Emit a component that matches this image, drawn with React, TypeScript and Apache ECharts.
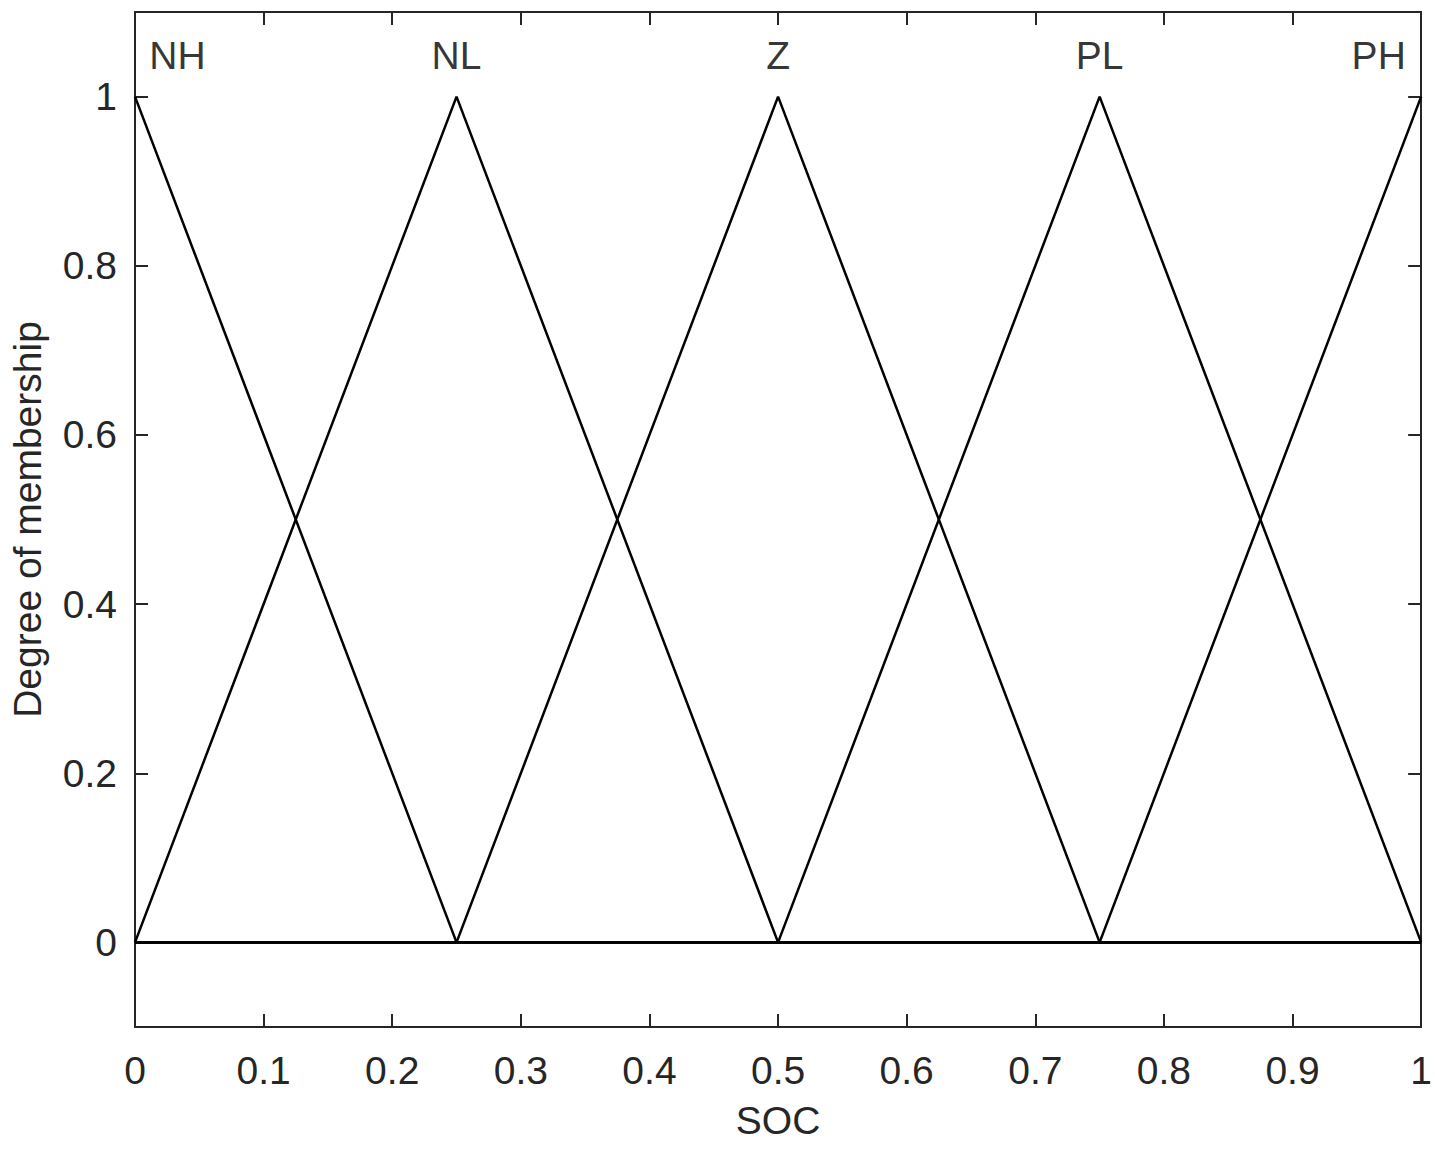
import React, { useEffect, useRef } from "react";
import * as echarts from "echarts";

// Membership functions (x, degree) over SOC range [0, 1]
const mfNames = ["NH", "NL", "Z", "PL", "PH"];
const mfNH = [[0, 1], [0.25, 0], [1, 0]];
const mfNL = [[0, 0], [0.25, 1], [0.5, 0], [1, 0]];
const mfZ = [[0, 0], [0.25, 0], [0.5, 1], [0.75, 0], [1, 0]];
const mfPL = [[0, 0], [0.5, 0], [0.75, 1], [1, 0]];
const mfPH = [[0, 0], [0.75, 0], [1, 1]];
const mfSeries = [mfNH, mfNL, mfZ, mfPL, mfPH];

// Label anchor points
const labelX = [0.033, 0.25, 0.5, 0.75, 0.967];
const labelY = [1.049, 1.049, 1.049, 1.049, 1.049];

const yTicks = [0, 0.2, 0.4, 0.6, 0.8, 1];

const FONT = "Liberation Sans, Arial, sans-serif";
const AXIS_COLOR = "#262626";

export default function App() {
  const ref = useRef<HTMLDivElement>(null);
  useEffect(() => {
    if (!ref.current) return;
    const chart = echarts.init(ref.current, undefined, { renderer: "svg" });
    const axisLine = { show: true, onZero: false, lineStyle: { color: AXIS_COLOR, width: 2 } };
    const axisTick = { show: true, inside: true, length: 13, lineStyle: { color: AXIS_COLOR, width: 2 } };
    const option: any = {
      animation: false,
      backgroundColor: "#ffffff",
      grid: { left: 135, right: 11, top: 12, bottom: 123, containLabel: false },
      xAxis: [
        {
          type: "value",
          min: 0,
          max: 1,
          interval: 0.1,
          position: "bottom",
          name: "SOC",
          nameLocation: "middle",
          nameGap: 74,
          nameTextStyle: { fontFamily: FONT, fontSize: 39, color: AXIS_COLOR },
          axisLine,
          axisTick,
          axisLabel: { fontFamily: FONT, fontSize: 39, color: AXIS_COLOR, margin: 24 },
          splitLine: { show: false },
        },
        {
          type: "value",
          min: 0,
          max: 1,
          interval: 0.1,
          position: "top",
          axisLine,
          axisTick,
          axisLabel: { show: false },
          splitLine: { show: false },
        },
      ],
      yAxis: [
        {
          type: "value",
          min: -0.1,
          max: 1.1,
          position: "left",
          name: "Degree of membership",
          nameLocation: "middle",
          nameGap: 88,
          nameTextStyle: { fontFamily: FONT, fontSize: 39, color: AXIS_COLOR },
          axisLine,
          axisTick: { ...axisTick, customValues: yTicks },
          axisLabel: { fontFamily: FONT, fontSize: 39, color: AXIS_COLOR, margin: 18, customValues: yTicks },
          splitLine: { show: false },
        },
        {
          type: "value",
          min: -0.1,
          max: 1.1,
          position: "right",
          axisLine,
          axisTick: { ...axisTick, customValues: yTicks },
          axisLabel: { show: false, customValues: yTicks },
          splitLine: { show: false },
        },
      ],
      series: [
        ...mfSeries.map((d, i) => ({
          type: "line",
          name: mfNames[i],
          data: d,
          symbol: "none",
          lineStyle: { color: "#000000", width: 2.5 },
          xAxisIndex: 0,
          yAxisIndex: 0,
          z: 3,
        })),
        {
          type: "scatter",
          symbolSize: 1,
          itemStyle: { color: "rgba(0,0,0,0)" },
          data: mfNames.map((n, i) => ({ name: n, value: [labelX[i], labelY[i]] })),
          label: {
            show: true,
            position: "inside",
            formatter: "{b}",
            fontFamily: FONT,
            fontSize: 39,
            color: "#000000",
          },
          xAxisIndex: 0,
          yAxisIndex: 0,
        },
      ],
    };
    chart.setOption(option);
    return () => chart.dispose();
  }, []);
  return (
    <div
      ref={ref}
      style={{ position: "fixed", left: 0, top: 0, width: 1435, height: 1150, background: "#fff" }}
    />
  );
}
